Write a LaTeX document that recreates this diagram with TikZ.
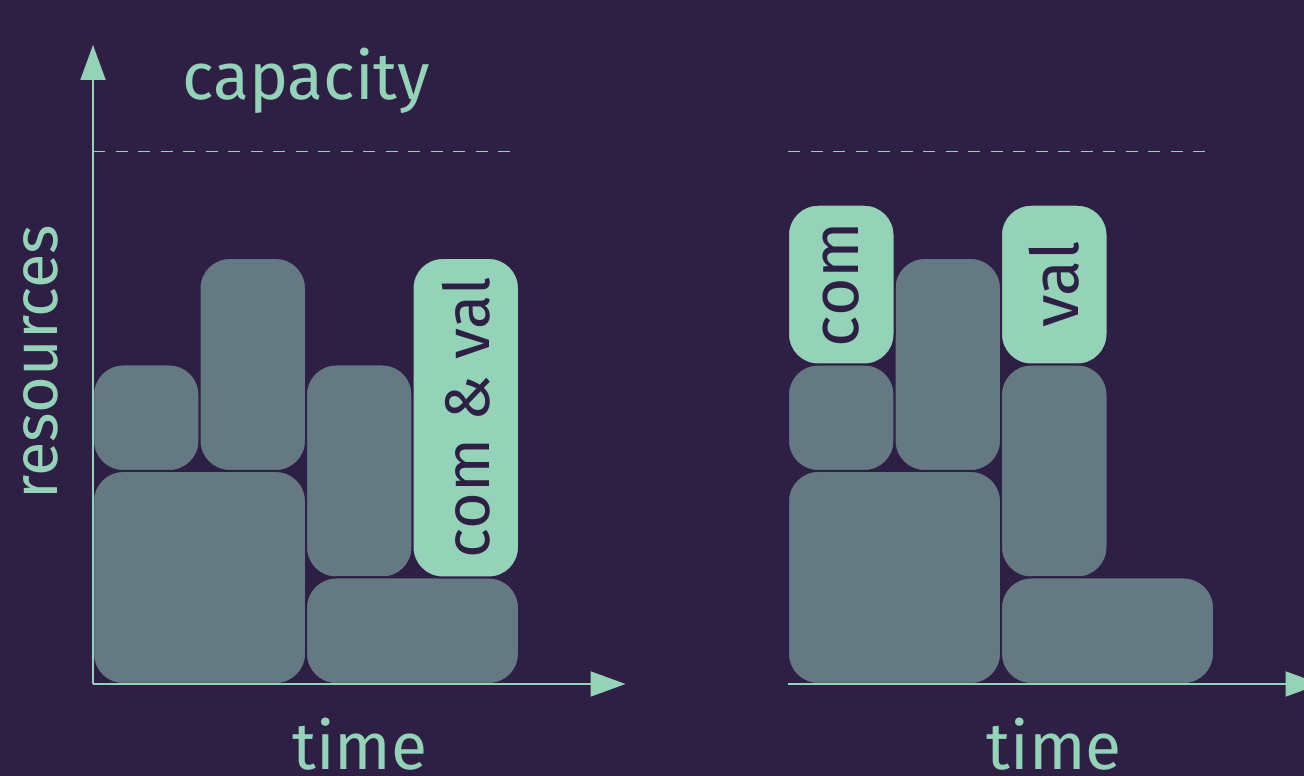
\documentclass[tikz,border=0pt]{standalone}
\usepackage{fontspec}
\setmainfont{Fira Sans}
\usetikzlibrary{arrows.meta}

\definecolor{bg}{HTML}{2E1F44}
\definecolor{block}{HTML}{657983}
\definecolor{mint}{HTML}{95D3B9}

\begin{document}
\begin{tikzpicture}[x=1pt,y=1pt,
  big/.style={font=\fontsize{66pt}{80pt}\selectfont},
  axislabel/.style={big, text=mint, inner sep=0pt},
  task/.style={fill=block, draw=bg, line width=2pt, rounded corners=30pt},
  phase/.style={fill=mint, draw=bg, line width=2pt, rounded corners=30pt},
  phaselabel/.style={big, text=bg, rotate=90, inner sep=0pt},
  axis/.style={draw=mint, line width=2pt, -{Triangle[length=35pt,width=25pt]}},
  caplimit/.style={draw=mint, line width=1.6pt, dash pattern=on 12pt off 10.5pt}]

% canvas
\fill[bg] (0,0) rectangle (1304,776);
\useasboundingbox (0,0) rectangle (1304,776);

% ---------- schedule with a combined commit & validate phase ----------
\begin{scope}[shift={(93,92)}, x=106.5pt, y=106.5pt]
  \path[task] (0,0) rectangle (2,2);
  \path[task] (0,2) rectangle (1,3);
  \path[task] (1,2) rectangle (2,4);
  \path[task] (2,1) rectangle (3,3);
  \path[task] (2,0) rectangle (4,1);
  \path[phase] (3,1) rectangle (4,4);
  \node[phaselabel, font=\fontsize{63pt}{76pt}\selectfont] (cv) at (3.5,2.5) {com \& val};

  \coordinate (lo) at (0,0);
  \coordinate (ly) at (0,6);
  \coordinate (lx) at (5,0);
  \coordinate (lcapA) at (0,5);
  \coordinate (lcapB) at (3.93,5);
  \draw[caplimit] (lcapA) -- (lcapB);
  \draw[axis] (lo) -- (ly);
  \draw[axis] (lo) -- (lx);

  \node[axislabel, anchor=base] (cap) at (2,5.484) {capacity};
  \node[axislabel, anchor=base, rotate=90, font=\fontsize{63pt}{76pt}\selectfont] (res) at (-0.338,3.023) {resources};
  \node[axislabel, anchor=base] (lt) at (2.507,-0.80) {time};
\end{scope}

% ---------- schedule with separate commit and validate phases ----------
\begin{scope}[shift={(788,92)}, x=106.5pt, y=106.5pt]
  \path[task] (0,0) rectangle (2,2);
  \path[task] (0,2) rectangle (1,3);
  \path[task] (1,2) rectangle (2,4);
  \path[task] (2,1) rectangle (3,3);
  \path[task] (2,0) rectangle (4,1);
  \path[phase] (0,3) rectangle (1,4.5);
  \path[phase] (2,3) rectangle (3,4.5);
  \node[phaselabel] (com) at (0.5,3.75) {com};
  \node[phaselabel] (val) at (2.5,3.75) {val};

  \coordinate (ro) at (0,0);
  \coordinate (rx) at (5,0);
  \coordinate (rcapA) at (0,5);
  \coordinate (rcapB) at (3.93,5);
  \draw[caplimit] (rcapA) -- (rcapB);
  \draw[axis] (ro) -- (rx);

  \node[axislabel, anchor=base] (rt) at (2.5,-0.80) {time};
\end{scope}
\end{tikzpicture}
\end{document}
